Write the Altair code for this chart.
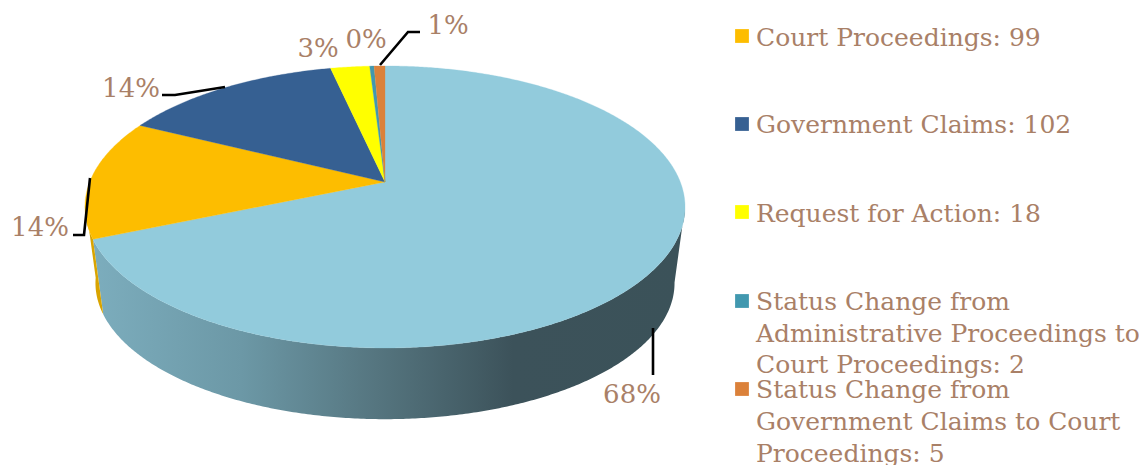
import numpy as np
import altair as alt

# ---- data
slice_names = ["Administrative Proceedings", "Court Proceedings", "Government Claims",
               "Request for Action",
               "Status Change from Administrative Proceedings to Court Proceedings",
               "Status Change from Government Claims to Court Proceedings"]
slice_values = [494, 99, 102, 18, 2, 5]
slice_colors = ["#92cbdc", "#fdbd00", "#366092", "#ffff00", "#4198af", "#db813a"]
pct_labels = ["68%", "14%", "14%", "3%", "0%", "1%"]
legend_lines = [
    ["Court Proceedings: 99"],
    ["Government Claims: 102"],
    ["Request for Action: 18"],
    ["Status Change from", "Administrative Proceedings to", "Court Proceedings: 2"],
    ["Status Change from", "Government Claims to Court", "Proceedings: 5"],
]

# ---- layout (page pixels)
W, H = 1147, 465
M = 8
FONT, FSIZE, PSIZE, TXT = "DejaVu Serif", 25, 26, "#a98067"
CX, CY = 385, 182          # apex of the pie's top face
B, A, K = 295.3, 136.6, 0.177   # perspective of the disc
WALL_SCALE, WALL_CY = 0.965, 259
pct_pos = [(632, 403), (40, 236), (131, 97), (318, 57), (366, 48), (448, 34)]
leaders = [[(653, 328), (653, 375)],
           [(90, 178), (84, 235), (73, 235)],
           [(225, 87), (175, 95), (162, 95)],
           [(380, 65), (408, 32), (420, 32)]]
legend_x, swatch_x = 756, 742
swatch_y = [36, 124, 212, 301, 389]
legend_base = [[46], [133], [222], [310, 342, 373], [398, 430, 462]]


def rim(t_deg, scale=1.0, cy=CY):
    t = np.radians(np.asarray(t_deg, dtype=float))
    den = 1 + K * np.cos(t)
    return np.c_[CX + scale * B * np.sin(t) / den - M,
                 cy - scale * A * np.cos(t) / den - M]


def arc_deg(a, b):
    return np.linspace(a, b, max(2, int(abs(b - a)) * 2 + 1))


def poly(points, color):
    ring = [[float(x), float(y)] for x, y in points]
    ring.append(ring[0])
    return {"type": "Feature", "properties": {"color": color},
            "geometry": {"type": "Polygon", "coordinates": [ring]}}


def wall(a, b, color):
    d = arc_deg(a, b)
    return poly(np.vstack([rim(d), rim(d[::-1], WALL_SCALE, WALL_CY)]), color)


cum = np.cumsum([0] + slice_values) / sum(slice_values) * 360
faces = [poly(np.vstack([[[CX - M, CY - M]], rim(arc_deg(cum[i], cum[i + 1]))]), slice_colors[i])
         for i in range(len(slice_values))]

proj = dict(type="identity", scale=1, translate=[0, 0])
xs = alt.Scale(domain=[M, W - M], nice=False, zero=False)
ys = alt.Scale(domain=[H, M], nice=False, zero=False)

main_wall = alt.Chart(alt.InlineData(values=[wall(100, cum[1], "x")])).mark_geoshape(
    strokeWidth=0,
    fill=alt.Gradient(gradient="linear", x1=1, x2=0, y1=0, y2=0,
                      stops=[alt.GradientStop(offset=0, color="#3b5259"),
                             alt.GradientStop(offset=0.29, color="#3c525a"),
                             alt.GradientStop(offset=0.52, color="#55757f"),
                             alt.GradientStop(offset=0.75, color="#6c98a6"),
                             alt.GradientStop(offset=1, color="#7cadbd")])
).project(**proj)
gold_wall = alt.Chart(alt.InlineData(values=[wall(cum[1], 262, "#d9a400")])).mark_geoshape(
    fill="#d9a400", strokeWidth=0).project(**proj)
top = alt.Chart(alt.InlineData(values=faces)).mark_geoshape(strokeWidth=0.3).encode(
    fill=alt.Fill("properties.color:N", scale=None, legend=None),
    stroke=alt.Stroke("properties.color:N", scale=None, legend=None),
).project(**proj)

lead_rows = [{"id": i, "o": j, "x": p[0], "y": p[1]} for i, l in enumerate(leaders) for j, p in enumerate(l)]
lead = alt.Chart(alt.InlineData(values=lead_rows)).mark_line(color="#000000", strokeWidth=2.6).encode(
    x=alt.X("x:Q", scale=xs, axis=None), y=alt.Y("y:Q", scale=ys, axis=None),
    detail="id:N", order="o:Q")

pct_rows = [{"t": t, "x": p[0], "y": p[1]} for t, p in zip(pct_labels, pct_pos)]
pct = alt.Chart(alt.InlineData(values=pct_rows)).mark_text(
    font=FONT, fontSize=PSIZE, color=TXT, align="center", baseline="alphabetic").encode(
    x=alt.X("x:Q", scale=xs, axis=None), y=alt.Y("y:Q", scale=ys, axis=None), text="t:N")

sw_rows = [{"x": swatch_x, "y": y, "c": c} for y, c in zip(swatch_y, slice_colors[1:])]
sw = alt.Chart(alt.InlineData(values=sw_rows)).mark_square(size=190, opacity=1, strokeWidth=0).encode(
    x=alt.X("x:Q", scale=xs, axis=None), y=alt.Y("y:Q", scale=ys, axis=None),
    fill=alt.Fill("c:N", scale=None, legend=None))

leg_rows = [{"t": t, "x": legend_x, "y": y}
            for lines, bases in zip(legend_lines, legend_base) for t, y in zip(lines, bases)]
leg = alt.Chart(alt.InlineData(values=leg_rows)).mark_text(
    font=FONT, fontSize=FSIZE, color=TXT, align="left", baseline="alphabetic").encode(
    x=alt.X("x:Q", scale=xs, axis=None), y=alt.Y("y:Q", scale=ys, axis=None), text="t:N")

chart = alt.layer(main_wall, gold_wall, top, lead, pct, sw, leg).properties(
    width=W - 2 * M, height=H - M, padding=0, background="#ffffff",
    autosize=alt.AutoSizeParams(type="none"),
).configure_view(strokeWidth=0)

chart.save("out.html", embed_options={"renderer": "svg", "actions": False})
